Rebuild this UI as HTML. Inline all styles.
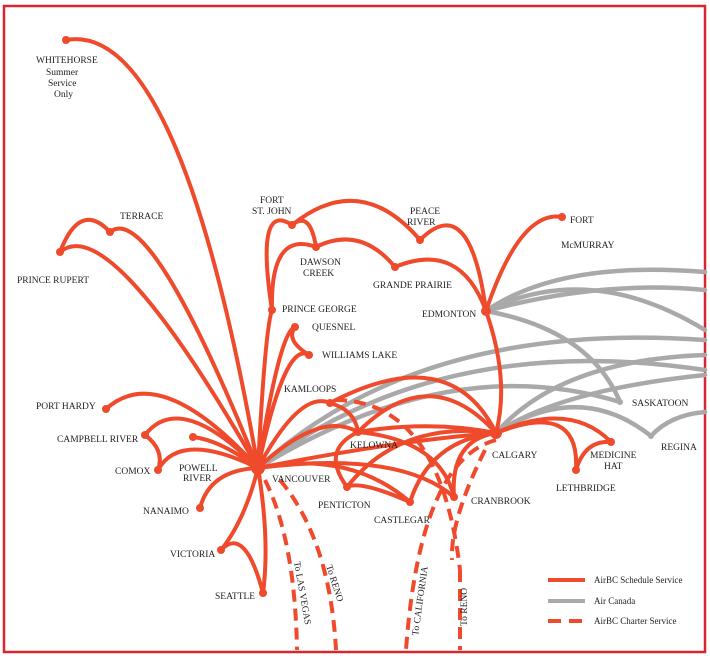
<!DOCTYPE html>
<html><head><meta charset="utf-8"><style>
html,body{margin:0;padding:0;background:#fff;}
svg{display:block;}
text{font-family:"Liberation Serif",serif;font-size:9.5px;fill:#222;}
</style></head><body>
<svg width="710" height="660" viewBox="0 0 710 660" xmlns="http://www.w3.org/2000/svg">
<rect x="0" y="0" width="710" height="660" fill="#fff"/>
<rect x="4" y="6" width="701" height="646" fill="none" stroke="#d9262e" stroke-width="2.5"/>
<g fill="none" stroke="#a9a9a9" stroke-width="4.5" stroke-linecap="round">
<path d="M486 311 Q560 260 705 272"/>
<path d="M486 311 Q590 260 705 330"/>
<path d="M486 311 Q590 330 620 402"/>
<path d="M486 311 Q600 280 705 290"/>
<path d="M258 468 Q420 320 705 340"/>
<path d="M258 468 Q440 330 705 370"/>
<path d="M258 468 Q450 350 620 402"/>
<path d="M496 433 Q560 390 705 375"/>
<path d="M496 433 Q580 380 651 436"/>
<path d="M651 436 Q670 415 705 412"/>
<path d="M496 433 Q560 360 705 355"/>
</g>
<g fill="none" stroke="#f04a2c" stroke-width="4" stroke-linecap="round">
<path d="M258 468 Q180 20 66 40"/>
<path d="M258 468 Q110 210 60 252"/>
<path d="M258 468 Q150 200 110 232"/>
<path d="M60 252 Q80 200 110 232"/>
<path d="M258 468 Q265 330 272 310"/>
<path d="M272 310 Q255 200 292 225"/>
<path d="M272 310 Q270 230 316 247"/>
<path d="M292 225 Q310 210 316 247"/>
<path d="M292 225 Q360 170 420 240"/>
<path d="M316 247 Q360 225 395 267"/>
<path d="M420 240 Q470 190 486 311"/>
<path d="M395 267 Q460 240 486 311"/>
<path d="M486 311 Q520 210 562 217"/>
<path d="M486 311 Q510 380 496 433"/>
<path d="M258 468 Q280 330 295 327"/>
<path d="M258 468 Q285 340 309 355"/>
<path d="M295 327 Q285 340 309 355"/>
<path d="M258 468 Q300 390 330 403"/>
<path d="M330 403 Q450 340 496 433"/>
<path d="M330 403 Q355 410 358 432"/>
<path d="M258 468 Q320 410 358 432"/>
<path d="M358 432 Q430 360 496 433"/>
<path d="M358 432 Q430 420 496 433"/>
<path d="M358 432 Q320 450 347 487"/>
<path d="M258 468 Q350 450 410 502"/>
<path d="M258 468 Q400 450 454 497"/>
<path d="M258 468 Q400 440 496 433"/>
<path d="M347 487 Q360 480 410 502"/>
<path d="M347 487 Q400 420 496 433"/>
<path d="M410 502 Q430 440 496 433"/>
<path d="M454 497 Q450 440 496 433"/>
<path d="M358 432 Q440 440 454 497"/>
<path d="M496 433 Q570 400 611 442"/>
<path d="M496 433 Q580 400 576 470"/>
<path d="M576 470 Q585 440 611 442"/>
<path d="M258 468 Q160 360 106 409"/>
<path d="M258 468 Q180 390 145 435"/>
<path d="M258 468 Q220 440 193 437"/>
<path d="M258 468 Q180 430 158 470"/>
<path d="M145 435 Q165 450 158 470"/>
<path d="M258 468 Q210 470 200 508"/>
<path d="M258 468 Q245 520 221 550"/>
<path d="M258 468 Q270 540 263 593"/>
<path d="M221 550 Q245 525 263 593"/>
</g>
<g fill="#f04a2c">
<circle cx="66" cy="40" r="4"/><circle cx="60" cy="252" r="4"/><circle cx="110" cy="232" r="4"/>
<circle cx="292" cy="225" r="4"/><circle cx="316" cy="247" r="4"/><circle cx="420" cy="240" r="4"/>
<circle cx="395" cy="267" r="4"/><circle cx="562" cy="217" r="4"/><circle cx="486" cy="311" r="5"/>
<circle cx="272" cy="310" r="4"/><circle cx="295" cy="327" r="4"/><circle cx="309" cy="355" r="4"/>
<circle cx="330" cy="403" r="4"/><circle cx="358" cy="432" r="4"/><circle cx="258" cy="468" r="7"/>
<circle cx="347" cy="487" r="4"/><circle cx="410" cy="502" r="4"/><circle cx="454" cy="497" r="4"/>
<circle cx="496" cy="433" r="6"/><circle cx="611" cy="442" r="4"/><circle cx="576" cy="470" r="4"/>
<circle cx="106" cy="409" r="4"/><circle cx="145" cy="435" r="4"/><circle cx="193" cy="437" r="4"/>
<circle cx="158" cy="470" r="4"/><circle cx="200" cy="508" r="4"/><circle cx="221" cy="550" r="4"/>
<circle cx="263" cy="593" r="4"/>
</g>
<g fill="#a9a9a9"><circle cx="620" cy="402" r="3"/><circle cx="651" cy="436" r="3"/></g>
<g fill="none" stroke="#f04a2c" stroke-width="4" stroke-dasharray="12 7">
<path d="M265 480 Q295 540 297 650"/>
<path d="M280 480 Q330 540 336 650"/>
<path d="M335 400 Q440 400 460 570"/>
<path d="M460 570 L460 650"/>
<path d="M496 440 Q420 460 406 650"/>
<path d="M485 450 Q450 520 452 560"/>
</g>
<g>
<text x="36" y="63">WHITEHORSE</text>
<text x="46" y="75">Summer</text><text x="48" y="86">Service</text><text x="54" y="97">Only</text>
<text x="120" y="219">TERRACE</text>
<text x="17" y="283">PRINCE RUPERT</text>
<text x="260" y="203">FORT</text><text x="252" y="214">ST. JOHN</text>
<text x="300" y="265">DAWSON</text><text x="303" y="276">CREEK</text>
<text x="410" y="214">PEACE</text><text x="407" y="225">RIVER</text>
<text x="373" y="288">GRANDE PRAIRIE</text>
<text x="570" y="223">FORT</text><text x="561" y="248">McMURRAY</text>
<text x="282" y="312">PRINCE GEORGE</text>
<text x="312" y="330">QUESNEL</text>
<text x="322" y="358">WILLIAMS LAKE</text>
<text x="422" y="317">EDMONTON</text>
<text x="284" y="392">KAMLOOPS</text>
<text x="350" y="448">KELOWNA</text>
<text x="272" y="482">VANCOUVER</text>
<text x="318" y="508">PENTICTON</text>
<text x="374" y="523">CASTLEGAR</text>
<text x="471" y="504">CRANBROOK</text>
<text x="492" y="458">CALGARY</text>
<text x="590" y="458">MEDICINE</text><text x="604" y="469">HAT</text>
<text x="556" y="491">LETHBRIDGE</text>
<text x="632" y="406">SASKATOON</text>
<text x="661" y="450">REGINA</text>
<text x="36" y="409">PORT HARDY</text>
<text x="57" y="442">CAMPBELL RIVER</text>
<text x="115" y="474">COMOX</text>
<text x="179" y="471">POWELL</text><text x="183" y="481">RIVER</text>
<text x="143" y="514">NANAIMO</text>
<text x="170" y="557">VICTORIA</text>
<text x="215" y="599">SEATTLE</text>
<text transform="translate(294 562) rotate(80)">To LAS VEGAS</text>
<text transform="translate(326 566) rotate(72)">To RENO</text>
<text transform="translate(418 636) rotate(-82)">To CALIFORNIA</text>
<text transform="translate(467 626) rotate(-90)">To RENO</text>
</g>
<line x1="548" y1="580" x2="585" y2="580" stroke="#f04a2c" stroke-width="4"/>
<line x1="548" y1="601" x2="585" y2="601" stroke="#a9a9a9" stroke-width="4"/>
<line x1="548" y1="621" x2="585" y2="621" stroke="#f04a2c" stroke-width="4" stroke-dasharray="13 8"/>
<text x="594" y="583" style="font-size:9px">AirBC Schedule Service</text>
<text x="594" y="604" style="font-size:9px">Air Canada</text>
<text x="594" y="624" style="font-size:9px">AirBC Charter Service</text>
</svg>
</body></html>
